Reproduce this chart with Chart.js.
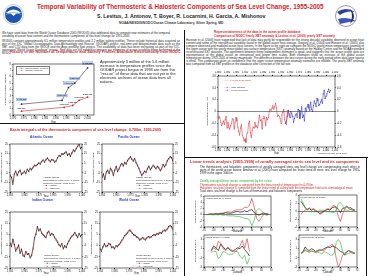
<!DOCTYPE html>
<html>
<head>
<meta charset="utf-8">
<script src="https://cdn.jsdelivr.net/npm/chart.js@4/dist/chart.umd.min.js"></script>
<style>
  body { margin: 0; width: 368px; height: 276px; background: #fff; position: relative; overflow: hidden;
         font-family: "Liberation Sans", Arial, sans-serif; }
  .t { position: absolute; white-space: nowrap; line-height: 1; }
  .p { position: absolute; font-size: 2.9px; line-height: 3.1px; color: #222; text-align: justify; }
  .red { color: #d8232a; font-weight: bold; }
  .blue { color: #2b3fc4; font-weight: bold; }
  canvas { position: absolute; }
  .rule { position: absolute; background: #111; }
  .leg { position: absolute; font-size: 2.5px; line-height: 2.8px; color: #222; white-space: nowrap; }
</style>
</head>
<body>

<!-- cabecera -->
<svg style="position:absolute;left:3px;top:4px" width="21" height="21" viewBox="0 0 21 21">
  <circle cx="10.5" cy="10.5" r="10" fill="#fff" stroke="#9ab" stroke-width="0.6"/>
  <circle cx="10.5" cy="10.5" r="8.6" fill="#1d55b0"/>
  <path d="M2.5 9 Q10.5 2 18.5 9 Q14 8 10.5 12 Q7 8 2.5 9Z" fill="#fff"/>
  <path d="M2.4 10.5 Q10.5 5 18.6 10.5 L18.6 11 Q10.5 7 2.4 11Z" fill="#8fc3ff"/>
</svg>
<svg style="position:absolute;left:330px;top:4px" width="32" height="24" viewBox="0 0 32 24">
  <circle cx="16" cy="12" r="10.5" fill="#fff" stroke="#557" stroke-width="0.6"/>
  <path d="M7 8 Q16 2 25 8 Q17 6 10 11Z" fill="#2b3f9e"/>
  <path d="M8 15 Q17 12 26 17 Q17 18 10 20Z" fill="#3c55b8"/>
  <path d="M20 5 Q28 12 20 20 Q24 12 20 5Z" fill="#1e2e7a"/>
</svg>
<div class="t red" style="left:37px;top:3.5px;font-size:6.35px">Temporal Variability of Thermosteric &amp; Halosteric Components of Sea Level Change, 1955-2005</div>
<div class="t" style="left:97px;top:14px;font-size:5.2px;font-weight:bold;color:#222">S. Levitus, J. Antonov, T. Boyer, R. Locarnini, H. Garcia, A. Mishonov</div>
<div class="t" style="left:119px;top:22px;font-size:3.3px;font-weight:bold;color:#333">NOAA/NESDIS/NODC/Ocean Climate Laboratory, Silver Spring, MD</div>

<!-- divisores -->
<div class="rule" style="left:184px;top:30px;width:0.8px;height:246px"></div>
<div class="rule" style="left:0px;top:123px;width:184px;height:0.8px"></div>
<div class="rule" style="left:184px;top:157px;width:184px;height:0.8px"></div>
<div class="rule" style="left:366px;top:157px;width:0.8px;height:119px"></div>

<!-- columna izquierda -->
<div class="p" style="left:2px;top:32px;width:168px">We have used data from the World Ocean Database 2005 (WOD05) plus additional data to compute new estimates of the temporal variability of ocean heat content and the thermosteric component of sea level change for 1955-2005.</div>
<div class="p" style="left:2px;top:40px;width:178px">WOD05 contains approximately 6.5 million temperature profiles and 2.2 million salinity profiles. These include historical data acquired as part of the IOC "Global Oceanographic Data Archaeology and Rescue" (GODAR) project, real-time and delayed-mode data such as the XBT and CTD data from the WOCE and the Argo profiling float project. The availability of data has been increasing as part of the IOC-sponsored "World Ocean Database" project. New data are still needed to improve our estimates of ocean variability being performed at the NODC.</div>
<div class="t red" style="left:10px;top:51px;font-size:3.8px">History of the Number of Temperature and Salinity Profiles Available Electronically from NODC</div>
<canvas id="perfiles"></canvas>
<div class="leg" style="left:16px;top:66px;border:0.4px solid #777;padding:0.6px 1px;background:#fff">
  <span style="color:#333">&#8212;&#9679;&#8212;</span> Temperature Profiles<br>
  <span style="color:#d8232a">&#8212;&#9679;&#8212;</span> Salinity Profiles</div>
<div class="p" style="left:100px;top:60px;width:80px;font-size:3.9px;line-height:4.1px;text-align:left">Approximately 3 million of the 5.6 million increase in temperature profiles since the GODAR project began in 1993 are from the "rescue" of these data that are not yet in the electronic archives of ocean data from all nations.</div>

<div class="t red" style="left:10px;top:129px;font-size:3.7px">Basin integrals of the thermosteric component of sea level change, 0-700m, 1955-2005</div>
<div class="t blue" style="left:30px;top:136px;font-size:3.3px">Atlantic Ocean</div>
<div class="t blue" style="left:118px;top:136px;font-size:3.3px">Pacific Ocean</div>
<div class="t blue" style="left:32px;top:199px;font-size:3.3px">Indian Ocean</div>
<div class="t blue" style="left:119px;top:199px;font-size:3.3px">World Ocean</div>
<canvas id="atlantico"></canvas>
<canvas id="pacifico"></canvas>
<canvas id="indico"></canvas>
<canvas id="mundial"></canvas>
<div class="leg" style="left:43px;top:177px">Atlantic Ocean<br>Thermosteric Sea Level, 0-700m<br>reference period: 1957-1990<br>&#8212;&#9679;&#8212; Totally<br><span style="color:#d8232a">&#8212;&#9679;&#8212;</span> Thermal</div>
<div class="leg" style="left:136px;top:177px">Pacific Ocean<br>Thermosteric Sea Level, 0-700m<br>reference period: 1957-1990<br>&#8212;&#9679;&#8212; Totally<br><span style="color:#d8232a">&#8212;&#9679;&#8212;</span> Thermal</div>
<div class="leg" style="left:44px;top:255px">Indian Ocean<br>Thermosteric Sea Level, 0-700m<br>reference period: 1957-1990<br>&#8212;&#9679;&#8212; Totally<br><span style="color:#d8232a">&#8212;&#9679;&#8212;</span> Thermal</div>
<div class="leg" style="left:136px;top:255px">World Ocean<br>Thermosteric Sea Level, 0-700m<br>reference period: 1957-1990<br>&#8212;&#9679;&#8212; Totally<br><span style="color:#d8232a">&#8212;&#9679;&#8212;</span> Thermal</div>

<!-- columna derecha -->
<div class="t red" style="left:214px;top:31px;font-size:3px">Representativeness of the data in the ocean profile database</div>
<div class="t red" style="left:214px;top:34.5px;font-size:3px">Comparison of NODC Yearly XBT anomaly &amp; Levitus et al. (2005) yearly SST anomaly</div>
<div class="p" style="left:186px;top:38.5px;width:178px">Harrison et al. (2006) have suggested that lack of data may partly be responsible for the strong decadal variability observed in ocean heat content and some of the interannual variability found in the global ocean heat storage. Gregory et al. (2004) and Hansen et al. (2005) also compare observed and modeled ocean heat content. In the figure to the right we compare the NODC yearly mean temperature anomaly of the upper ocean with the yearly mean global sea surface temperature (SST) anomaly based on the Hadley Centre and the NOAA extended reconstructed SST datasets. The agreement between these independent estimates is good, and suggests that the ocean profile data are representative of the global ocean on interannual and longer time scales. Both estimates show an increase of the global ocean temperature during 1955-2005 of similar magnitude. The difference between the two curves during the early period when data were sparse is small. This comparison gives us confidence that the upper ocean temperature anomaly estimates are reliable. The yearly XBT anomaly was computed from all XBT profiles in the database after correction of the fall rate.</div>
<canvas id="sst"></canvas>
<div class="leg" style="left:224px;top:80px;color:#d8232a">&#8212;&#8212; 0.46 for 1955-2005</div>
<div class="leg" style="left:224px;top:87px">
  <span style="color:#d8232a">&#8212;&#9679;&#8212;</span> SST (global)<br>
  <span style="color:#2b2bb8">&#8212;&#9679;&#8212;</span> T ocn (0-700m)</div>
<div class="leg" style="left:318px;top:152px;font-size:2.3px">reference period: 1961-1990</div>

<div class="t red" style="left:190px;top:159.5px;font-size:3.95px">Linear trends analysis (1955-1999) of zonally averaged steric sea level and its components</div>
<div class="p" style="left:200px;top:166px;width:160px">The thermosteric and halosteric components of zonally averaged steric sea level change are compensating each other in parts of the world ocean basins; Antonov et al. (2005) have computed the linear trend of steric sea level change for 1955-1999 in the upper 3000 m.</div>
<div class="t" style="left:200px;top:180px;font-size:2.8px;color:#27b02a">Zonally averaged linear trends, components by line colour</div>
<div class="t" style="left:200px;top:183.5px;font-size:2.8px;color:#d8232a">Thermosteric sea level change is computed from the linear trend of temperature for 0-700m</div>
<div class="t" style="left:200px;top:186.5px;font-size:2.8px;color:#d8232a">Halosteric sea level change is computed from the linear trend of salinity with the temperature held at its climatological mean</div>
<div class="t" style="left:200px;top:189.5px;font-size:2.8px;color:#222">Total steric sea level change is the sum of thermosteric and halosteric components</div>
<canvas id="z1"></canvas>
<canvas id="z2"></canvas>
<canvas id="z3"></canvas>
<canvas id="z4"></canvas>

<script>
  // Perfiles disponibles en el NODC (millones)
  const aniosTemp = [1974, 1993, 1996, 1999, 2005];
  const perfilesTemp = [1.7, 2.3, 4.3, 5.0, 7.4];
  const aniosSal = [1974, 1994, 1998, 2001, 2005];
  const perfilesSal = [0.6, 1.2, 1.5, 2.3, 2.8];

  // Anomalia de temperatura global (grados C)
  const sstInicio = 1880;
  const sstGlobal = [
    -0.12, -0.08, -0.10, -0.18, -0.24, -0.20, -0.16, -0.22, -0.14, -0.08,
    -0.28, -0.18, -0.26, -0.30, -0.24, -0.20, -0.12, -0.14, -0.30, -0.18,
    -0.10, -0.16, -0.26, -0.34, -0.40, -0.28, -0.22, -0.40, -0.44, -0.50,
    -0.46, -0.52, -0.38, -0.36, -0.20, -0.16, -0.36, -0.44, -0.32, -0.26,
    -0.28, -0.18, -0.26, -0.24, -0.28, -0.18, -0.06, -0.16, -0.14, -0.30,
    -0.12, -0.08, -0.12, -0.24, -0.10, -0.14, -0.10, 0.00, 0.04, 0.02,
    0.06, 0.10, 0.04, 0.08, 0.14, 0.06, -0.08, -0.06, -0.08, -0.12,
    -0.20, -0.06, -0.02, 0.04, -0.14, -0.18, -0.22, -0.02, 0.02, -0.04,
    -0.08];
  const ocnInicio = 1955;
  const tOceano = [
    -0.20, -0.16, -0.08, 0.02, -0.06, -0.10, 0.00, -0.04, -0.08, -0.18,
    -0.12, -0.06, -0.04, -0.10, 0.04, 0.02, -0.12, -0.04, 0.08, -0.10,
    -0.06, -0.16, 0.06, 0.00, 0.08, 0.12, 0.06, 0.02, 0.16, 0.04,
    0.00, 0.10, 0.18, 0.14, 0.08, 0.22, 0.18, 0.10, 0.12, 0.16,
    0.20, 0.14, 0.30, 0.36, 0.22, 0.26, 0.30, 0.34, 0.38, 0.32,
    0.36];

  // Integrales por cuenca, 1955-2005 (mm)
  const cuencaInicio = 1955;
  const atlTotal = [-7,-10,-17,-6,-3,-8,-4,-2,-7,-5, -3,-6,-1,-4,0,-2,1,3,2,4, 5,4,7,8,6,9,10,8,7,9, 8,6,7,11,13,12,15,14,16,17, 13,15,12,16,19,17,20,23,25,20, 22];
  const atlTermico = [-8,-9,-15,-7,-4,-7,-5,-3,-6,-6, -4,-5,-2,-3,-1,-1,0,2,3,3, 6,5,6,9,7,8,11,9,6,8, 9,7,8,10,12,13,14,15,15,16, 14,14,13,15,18,18,21,22,24,21, 21];
  const pacTotal = [-10,-6,-12,-4,-2,-6,0,-3,-8,-2, 2,-4,-1,3,5,2,6,4,8,10, 12,9,7,10,6,3,0,-4,-8,-6, -3,-5,-1,2,-2,0,3,1,-1,2, 0,-3,-1,4,1,3,8,10,12,11, 8];
  const pacTermico = [-9,-7,-11,-5,-3,-5,-1,-2,-7,-3, 1,-3,0,2,4,3,5,5,7,9, 11,10,8,9,5,2,-1,-5,-7,-5, -4,-4,0,1,-1,1,2,2,0,1, 1,-2,0,3,2,4,7,9,11,10, 7];
  const indTotal = [-3,-6,1,-4,-10,-7,-5,-12,-8,-14, -15,-10,-13,-12,-16,-14,-8,2,5,12, 8,10,6,5,3,2,7,8,4,6, 5,2,0,-2,-4,-6,-3,-8,-5,-7, -3,-1,2,3,5,7,4,2,6,3, 5];
  const indTermico = [-2,-5,0,-5,-9,-8,-4,-11,-9,-13, -14,-11,-12,-13,-15,-13,-7,1,6,11, 9,9,7,4,4,3,6,7,5,5, 4,3,1,-1,-5,-5,-4,-7,-6,-6, -4,0,1,4,4,6,5,3,5,4, 4];
  const munTotal = [-8,-10,-6,-3,-6,-5,-3,-4,-7,-6, -8,-5,-6,-4,-2,0,2,4,5,7, 9,8,6,5,4,3,2,0,1,2, 1,0,2,3,2,3,4,5,4,6, 5,7,6,8,9,8,10,12,13,12, 10];
  const munTermico = [-7,-9,-7,-4,-5,-6,-4,-3,-6,-7, -7,-6,-5,-5,-3,-1,1,3,6,6, 8,9,7,4,5,2,3,1,0,2, 2,1,1,3,3,2,4,4,5,5, 6,6,7,7,8,9,9,11,12,11, 9];

  // Tendencias zonales (mm/ano) por latitud
  const latitudes = [-65,-60,-55,-50,-45,-40,-35,-30,-25,-20,-15,-10,-5,0,5,10,15,20,25,30,35,40,45,50,55,60,65];
  const z1Total = [0.0,0.1,0.2,0.1,0.3,0.2,0.4,0.3,0.6,0.5, 0.4,0.6,0.9,1.0,0.8,0.9,1.2,0.9,1.4,1.6, 0.6,0.2,-0.2,0.3,0.5,0.2,0.1];
  const z1Termo = [0.0,0.1,0.2,0.2,0.3,0.3,0.4,0.5,0.7,0.9, 0.8,1.0,1.4,1.6,1.5,1.8,2.4,2.2,3.0,5.2, 2.4,-1.2,-2.2,-1.0,0.2,0.4,0.2];
  const z1Halo = [0.0,0.0,0.0,-0.1,0.0,-0.1,0.0,-0.2,-0.1,-0.4, -0.4,-0.4,-0.5,-0.6,-0.7,-0.9,-1.2,-1.3,-1.6,-3.6, -1.8,1.4,2.0,1.3,0.3,-0.2,-0.1];
  const z2Total = [2.4,1.6,0.8,0.4,0.6,0.2,0.4,0.0,-0.2,-0.6, -0.4,0.0,0.2,0.4,0.2,0.8,1.0,1.0,0.4,-0.4, 0.6,0.8,1.2,0.8,0.8,0.4,0.2];
  const z2Termo = [-0.8,-0.2,0.2,0.4,0.8,0.4,0.6,0.2,0.0,-0.8, -0.6,-0.2,0.4,0.6,0.4,1.2,1.4,0.6,-1.4,-2.6, -0.8,0.4,1.0,0.6,0.4,0.2,0.0];
  const z2Halo = [3.0,2.0,0.8,0.2,-0.2,-0.2,-0.2,-0.2,-0.2,0.2, 0.2,0.2,-0.2,-0.2,-0.2,-0.4,-0.4,0.4,1.8,2.2, 1.4,0.4,0.2,0.2,0.4,0.2,0.2];
  const z3Total = [null,null,0.6,1.6,1.2,0.6,2.0,1.4,0.8,1.2, 0.6,0.4,0.8,1.2,1.0,1.6,0.8,0.2,-0.6, null,null,null,null,null,null,null,null];
  const z3Termo = [null,null,0.4,1.2,0.8,2.6,2.2,1.0,0.6,1.4, 0.8,0.6,0.4,0.8,1.6,2.8,1.2,3.2,0.4, null,null,null,null,null,null,null,null];
  const z3Halo = [null,null,0.2,0.4,0.4,-1.2,-0.6,0.4,0.2,-0.2, -0.2,-0.2,0.4,0.4,-0.6,-1.2,-0.4,-2.4,-1.0, null,null,null,null,null,null,null,null];
  const z4Total = [0.0,0.4,1.4,0.8,0.6,1.0,0.8,0.4,0.6,0.8, 0.6,1.0,1.2,1.4,1.2,1.6,1.4,1.2,0.8,0.4, 0.2,-0.4,0.2,0.6,0.4,0.2,0.0];
  const z4Termo = [0.0,0.2,0.8,0.4,0.2,0.6,0.4,0.2,0.4,0.6, 0.8,0.6,1.0,1.4,1.6,2.0,1.4,-1.2,-3.0,-2.0, -0.4,0.0,0.4,0.6,0.2,0.0,0.0];
  const z4Halo = [0.0,0.2,0.6,0.4,0.4,0.4,0.4,0.2,0.2,0.2, -0.2,0.4,0.2,0.0,-0.4,-0.4,0.0,2.4,3.0,2.4, 0.6,-0.4,-0.2,0.0,0.2,0.2,0.0];

  Chart.defaults.font.family = '"Liberation Sans", Arial, sans-serif';
  Chart.defaults.font.size = 3;
  Chart.defaults.color = '#111';

  const ROJO = '#d8232a', AZUL = '#2b2bb8', VERDE = '#27b02a', NEGRO = '#111';

  // pares {x,y} a partir de un anio inicial
  function serie(inicio, valores) {
    return valores.map((v, i) => ({ x: inicio + i, y: v }));
  }
  function pares(xs, ys) {
    return xs.map((x, i) => ({ x: x, y: ys[i] }));
  }

  // marco alrededor del area del grafico
  const marco = {
    id: 'marco',
    afterDraw(chart) {
      const a = chart.chartArea, ctx = chart.ctx;
      ctx.save();
      ctx.strokeStyle = '#111';
      ctx.lineWidth = 0.6;
      ctx.strokeRect(a.left, a.top, a.right - a.left, a.bottom - a.top);
      ctx.restore();
    }
  };

  // etiquetas con el numero de perfiles sobre cada punto
  const etiquetas = {
    id: 'etiquetas',
    afterDatasetsDraw(chart) {
      const ctx = chart.ctx;
      ctx.save();
      ctx.font = 'bold 2.1px "Liberation Sans"';
      ctx.textAlign = 'center';
      chart.data.datasets.forEach((ds, i) => {
        chart.getDatasetMeta(i).data.forEach((pt, j) => {
          const txt = (Math.round(ds.data[j].y * 1000) * 1000).toLocaleString('en-US');
          const w = ctx.measureText(txt).width + 1;
          const yy = pt.y - (i === 0 ? 4 : 2.5);
          if (i === 0) {
            ctx.fillStyle = '#c9d6f2';
            ctx.fillRect(pt.x - w / 2, yy - 2, w, 2.6);
            ctx.strokeStyle = '#5570b8';
            ctx.lineWidth = 0.3;
            ctx.strokeRect(pt.x - w / 2, yy - 2, w, 2.6);
          }
          ctx.fillStyle = i === 0 ? '#1b2f7a' : '#333';
          ctx.fillText(txt, pt.x, yy);
        });
      });
      ctx.restore();
    }
  };

  // coloca el canvas de forma que el area del grafico caiga en la caja
  function colocar(id, caja, config) {
    const c = document.getElementById(id);
    const W = caja.w + caja.l + caja.r, H = caja.h + caja.t + caja.b;
    c.width = W; c.height = H;
    c.style.width = W + 'px'; c.style.height = H + 'px';
    c.style.left = (caja.x - caja.l) + 'px';
    c.style.top = (caja.y - caja.t) + 'px';
    const tam = { left: caja.l, right: caja.r, top: caja.t, bottom: caja.b };
    const usados = {};
    Object.values(config.options.scales).forEach(s => {
      usados[s.position] = true;
      s.afterFit = sc => {
        if (sc.isHorizontal()) sc.height = tam[s.position]; else sc.width = tam[s.position];
        sc.paddingLeft = sc.paddingRight = sc.paddingTop = sc.paddingBottom = 0;
      };
    });
    config.options.layout = { padding: {
      left: usados.left ? 0 : caja.l, right: usados.right ? 0 : caja.r,
      top: usados.top ? 0 : caja.t, bottom: usados.bottom ? 0 : caja.b } };
    config.options.responsive = false;
    config.options.animation = false;
    config.options.events = [];
    config.options.devicePixelRatio = 1;
    config.options.plugins = Object.assign({ legend: { display: false }, tooltip: { enabled: false } }, config.options.plugins || {});
    config.plugins = (config.plugins || []).concat([marco]);
    return new Chart(c, config);
  }

  function linea(data, color, radio, ancho) {
    return { data: data, borderColor: color, backgroundColor: color, borderWidth: ancho || 0.5,
             pointRadius: radio || 0, pointBorderWidth: 0, tension: 0, spanGaps: false };
  }

  function ejeY(pos, min, max, paso, etiquetasVis, titulo, cero) {
    return {
      type: 'linear', position: pos, min: min, max: max,
      ticks: { stepSize: paso, display: etiquetasVis, padding: 0.8, font: { size: 2.6 } },
      grid: { drawOnChartArea: !!cero, tickLength: 1.2, tickColor: '#111', lineWidth: 0.5,
              color: ctx => (ctx.tick && ctx.tick.value === 0) ? '#111' : 'rgba(0,0,0,0)' },
      border: { display: false },
      title: { display: !!titulo, text: titulo || '', padding: 0, font: { size: 2.5 } }
    };
  }

  function ejeX(pos, min, max, paso, titulo) {
    return {
      type: 'linear', position: pos, min: min, max: max,
      ticks: { stepSize: paso, padding: 0.5, maxRotation: 0, autoSkip: false, includeBounds: false, font: { size: 2.6 } },
      grid: { drawOnChartArea: false, tickLength: 1.2, tickColor: '#111' },
      border: { display: false },
      title: { display: !!titulo, text: titulo || '', padding: 0, font: { size: 2.6 } }
    };
  }

  // 1. historia de perfiles
  colocar('perfiles', { x: 13, y: 64, w: 82, h: 51, l: 9, r: 3, t: 4, b: 9 }, {
    type: 'line',
    data: { datasets: [
      linea(pares(aniosTemp, perfilesTemp), '#333', 0.9, 0.6),
      linea(pares(aniosSal, perfilesSal), ROJO, 0.9, 0.6)
    ] },
    options: { scales: {
      x: ejeX('bottom', 1970, 2008, 5, 'Year'),
      y: ejeY('left', 0, 8, 1, true, 'Number of profiles (millions)', false)
    } },
    plugins: [etiquetas]
  });

  // 2. SST global vs temperatura del oceano
  colocar('sst', { x: 218, y: 76, w: 117, h: 71, l: 12, r: 10, t: 5, b: 8 }, {
    type: 'line',
    data: { datasets: [
      linea(serie(sstInicio, sstGlobal), ROJO, 0.45, 0.5),
      linea(serie(ocnInicio, tOceano), AZUL, 0.5, 0.5)
    ] },
    options: { scales: {
      x: ejeX('bottom', 1880, 2010, 10, 'Year'),
      x2: ejeX('top', 1880, 2010, 10, null),
      y: ejeY('left', -0.6, 0.6, 0.2, true, 'Temperature anomaly (°C)', true),
      y2: ejeY('right', -0.6, 0.6, 0.2, true, null, false)
    } }
  });

  // 3. cuencas
  function cuenca(id, caja, total, termico) {
    return colocar(id, caja, {
      type: 'line',
      data: { datasets: [
        linea(serie(cuencaInicio, total), NEGRO, 0.5, 0.5),
        linea(serie(cuencaInicio, termico), ROJO, 0.45, 0.4)
      ] },
      options: { scales: {
        x: ejeX('bottom', 1955, 2005, 10, 'Year'),
        y: ejeY('left', -25, 25, 5, true, 'Thermosteric sea level (mm)', true),
        y2: ejeY('right', -25, 25, 5, true, null, false)
      } }
    });
  }
  cuenca('atlantico', { x: 10, y: 142, w: 72, h: 50, l: 10, r: 9, t: 2, b: 6 }, atlTotal, atlTermico);
  cuenca('pacifico', { x: 102, y: 142, w: 71, h: 50, l: 10, r: 9, t: 2, b: 6 }, pacTotal, pacTermico);
  cuenca('indico', { x: 10, y: 210, w: 72, h: 58, l: 10, r: 9, t: 2, b: 7 }, indTotal, indTermico);
  cuenca('mundial', { x: 100, y: 210, w: 73, h: 58, l: 10, r: 9, t: 2, b: 7 }, munTotal, munTermico);

  // 4. tendencias zonales
  function zonal(id, caja, nombre, yMin, yMax, total, termo, halo) {
    return colocar(id, caja, {
      type: 'line',
      data: { datasets: [
        linea(pares(latitudes, halo), VERDE, 0, 0.6),
        linea(pares(latitudes, termo), ROJO, 0, 0.6),
        linea(pares(latitudes, total), NEGRO, 0, 0.7)
      ] },
      options: {
        scales: {
          x: ejeX('bottom', -70, 70, 20, 'Latitude'),
          y: ejeY('left', yMin, yMax, 1, true, 'Linear trend (mm/yr)', true)
        }
      },
      plugins: [{
        id: 'nombre',
        afterDraw(chart) {
          const ctx = chart.ctx, a = chart.chartArea;
          ctx.save();
          ctx.font = '2.4px "Liberation Sans"';
          ctx.fillStyle = '#222';
          ctx.fillText(nombre, a.left + 1.5, a.top + 3);
          ctx.restore();
        }
      }]
    });
  }
  zonal('z1', { x: 204, y: 196, w: 67, h: 31, l: 10, r: 2, t: 2, b: 6 }, 'Atlantic Ocean (0-700m)', -4, 6, z1Total, z1Termo, z1Halo);
  zonal('z2', { x: 299, y: 195, w: 58, h: 32, l: 10, r: 2, t: 2, b: 6 }, 'Pacific Ocean (0-700m)', -4, 4, z2Total, z2Termo, z2Halo);
  zonal('z3', { x: 204, y: 235, w: 67, h: 32, l: 10, r: 2, t: 2, b: 7 }, 'Indian Ocean (0-700m)', -3, 4, z3Total, z3Termo, z3Halo);
  zonal('z4', { x: 299, y: 235, w: 58, h: 32, l: 10, r: 2, t: 2, b: 7 }, 'World Ocean (0-700m)', -3, 4, z4Total, z4Termo, z4Halo);
</script>
</body>
</html>
